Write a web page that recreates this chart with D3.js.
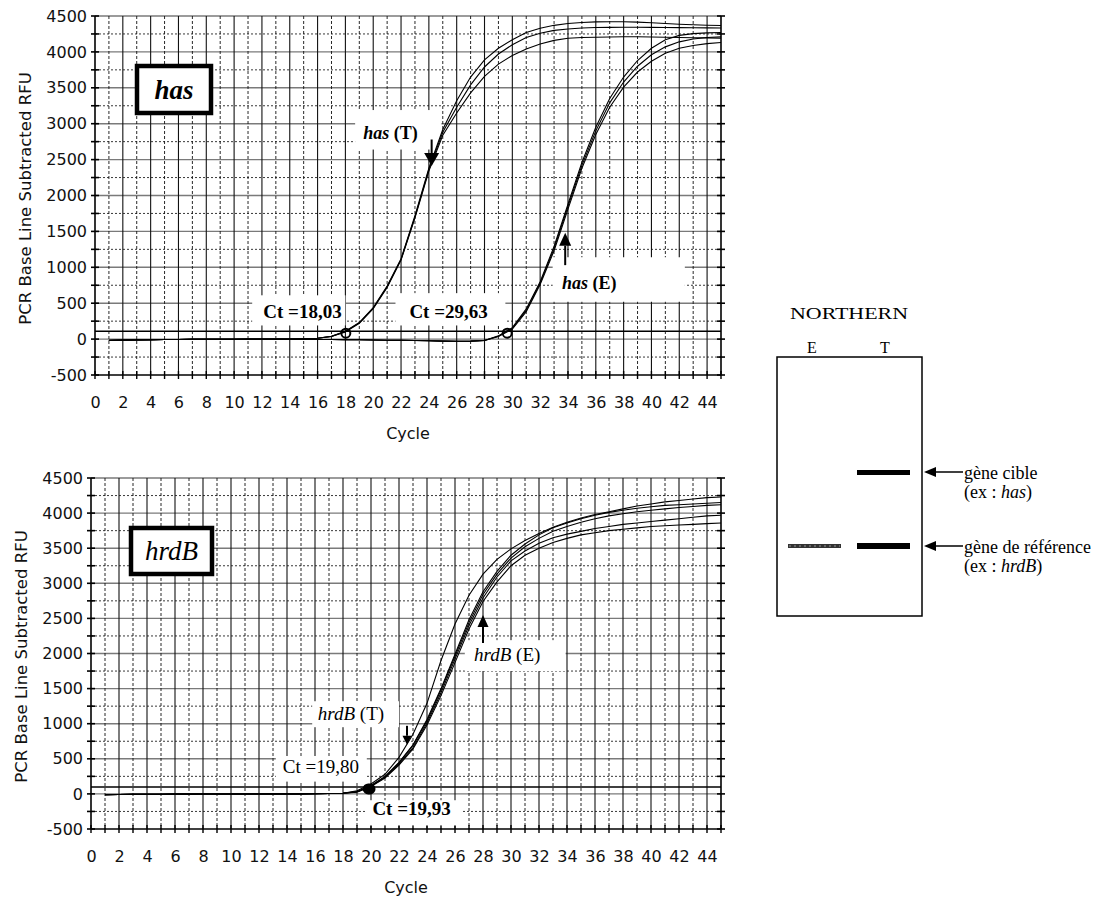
<!DOCTYPE html>
<html>
<head>
<meta charset="utf-8">
<script src="https://cdn.jsdelivr.net/npm/d3@7"></script>
<style>
  body { margin: 0; background: #fff; }
  svg { display: block; }
</style>
</head>
<body>
<svg id="fig" width="1119" height="914"></svg>
<script>
// ---- data -------------------------------------------------------------
const cycles = [1,2,3,4,5,6,7,8,9,10,11,12,13,14,15,16,17,18,19,20,21,22,23,24,25,
                26,27,28,29,30,31,32,33,34,35,36,37,38,39,40,41,42,43,44,45];
const yTicks = [-500,0,500,1000,1500,2000,2500,3000,3500,4000,4500];
const xTicks = [0,2,4,6,8,10,12,14,16,18,20,22,24,26,28,30,32,34,36,38,40,42,44];

// has, sample T (three replicates)
const hasT1 = [-20,-15,-12,-8,-6,-5,-4,-3,-2,-2,-1,0,0,2,5,12,40,110,230,440,740,1120,1720,2380,2920,
               3320,3650,3890,4050,4170,4270,4330,4370,4395,4410,4418,4420,4420,4415,4405,4395,4385,4378,4372,4368];
const hasT2 = [-20,-15,-12,-8,-6,-5,-4,-3,-2,-2,-1,0,0,2,5,12,38,105,225,430,730,1110,1700,2360,2880,
               3230,3540,3790,3970,4100,4200,4260,4300,4320,4333,4340,4342,4343,4343,4342,4340,4338,4336,4334,4332];
const hasT3 = [-20,-15,-12,-8,-6,-5,-4,-3,-2,-2,-1,0,0,2,5,12,36,100,220,425,720,1100,1690,2340,2840,
               3150,3430,3660,3830,3950,4040,4110,4160,4190,4200,4205,4208,4210,4210,4208,4205,4200,4198,4195,4192];
// has, sample E (three replicates)
const hasE1 = [-15,-12,-10,-8,-6,-5,-4,-3,-3,-2,-2,-2,-2,-3,-4,-5,-6,-8,-10,-12,-15,-18,-20,-24,-28,
               -30,-28,-20,45,160,420,800,1290,1880,2460,2950,3350,3650,3880,4050,4170,4230,4255,4265,4270];
const hasE2 = [-15,-12,-10,-8,-6,-5,-4,-3,-3,-2,-2,-2,-2,-3,-4,-5,-6,-8,-10,-12,-15,-18,-20,-24,-28,
               -30,-28,-20,40,150,400,780,1260,1850,2420,2900,3290,3580,3800,3960,4070,4140,4180,4200,4210];
const hasE3 = [-15,-12,-10,-8,-6,-5,-4,-3,-3,-2,-2,-2,-2,-3,-4,-5,-6,-8,-10,-12,-15,-18,-20,-24,-28,
               -30,-28,-20,35,140,380,760,1230,1810,2380,2850,3230,3510,3720,3870,3980,4050,4090,4115,4130];

// hrdB, all runs (E and T)
const hrdB1 = [-10,-8,-6,-5,-4,-3,-3,-2,-2,-1,-1,0,0,0,1,2,5,10,45,140,280,520,850,1290,1900,
               2420,2830,3130,3340,3490,3610,3710,3800,3870,3930,3980,4020,4060,4100,4130,4160,4180,4200,4220,4230];
const hrdB2 = [-10,-8,-6,-5,-4,-3,-3,-2,-2,-1,-1,0,0,0,1,2,5,10,35,120,250,450,700,1060,1500,
               1990,2480,2880,3170,3400,3560,3690,3790,3860,3920,3970,4010,4040,4070,4090,4110,4120,4130,4140,4150];
const hrdB3 = [-10,-8,-6,-5,-4,-3,-3,-2,-2,-1,-1,0,0,0,1,2,5,10,28,110,235,425,660,1010,1440,
               1920,2400,2790,3090,3320,3460,3570,3650,3700,3740,3780,3810,3840,3860,3880,3900,3920,3940,3960,3970];
const hrdB4 = [-10,-8,-6,-5,-4,-3,-3,-2,-2,-1,-1,0,0,0,1,2,5,10,25,105,225,410,640,980,1400,
               1870,2350,2740,3020,3250,3400,3500,3580,3640,3690,3720,3750,3770,3790,3810,3820,3830,3840,3850,3860];
const hrdB5 = [-10,-8,-6,-5,-4,-3,-3,-2,-2,-1,-1,0,0,0,1,2,5,10,30,115,240,440,690,1040,1480,
               1960,2440,2840,3130,3360,3520,3640,3740,3810,3870,3920,3960,3990,4020,4040,4060,4080,4095,4110,4120];

const ctHas = [18.03, 29.63];
const ctHrdB = [19.80, 19.93];
const thresholdHas = 110;
const thresholdHrdB = 100;

// ---- drawing ------------------------------------------------------------
const svg = d3.select("#fig");
const SANS = "'DejaVu Sans', Verdana, sans-serif";
const SERIF = "'Liberation Serif', 'Times New Roman', serif";
const plainNumber = d => String(d);   // "4500", "-500" with an ASCII hyphen

const panels = [
  {
    name: "has", runs: [hasT1, hasT2, hasT3, hasE1, hasE2, hasE3],
    ct: ctHas, thr: thresholdHas,
    left: 95, right: 721, top: 16, bottom: 375,
    tag: { x0: 137, y0: 66, w: 74, h: 47, text: "has", weight: "bold" },
    boxes: [
      [18.7, 24.9, 3190, 2640],
      [32.9, 42.4, 1140, 520],
      [11.3, 18.0, 610, 190],
      [21.6, 29.5, 640, 190]
    ],
    labels: [
      { c: 23.2, v: 2780, anchor: "end", weight: "bold", size: 18, parts: [["has", true], [" (T)", false]] },
      { c: 33.57, v: 700, anchor: "start", weight: "bold", size: 18, parts: [["has", true], [" (E)", false]] },
      { c: 12.1, v: 290, anchor: "start", weight: "bold", size: 19, parts: [["Ct =18,03", false]] },
      { c: 22.6, v: 290, anchor: "start", weight: "bold", size: 19, parts: [["Ct =29,63", false]] }
    ],
    arrows: [
      { c: 24.2, from: 2780, to: 2410, head: 13, width: 15 },
      { c: 33.8, from: 1030, to: 1480, head: 13, width: 12 }
    ]
  },
  {
    name: "hrdB", runs: [hrdB1, hrdB2, hrdB3, hrdB4, hrdB5],
    ct: ctHrdB, thr: thresholdHrdB,
    left: 91, right: 721, top: 478, bottom: 829,
    tag: { x0: 131, y0: 528, w: 81, h: 46, text: "hrdB", weight: "normal" },
    boxes: [
      [26.7, 33.9, 2190, 1750],
      [15.8, 22.0, 1320, 950],
      [13.2, 19.7, 540, 175],
      [19.6, 26.5, -90, -450]
    ],
    labels: [
      { c: 27.36, v: 1890, anchor: "start", weight: "normal", size: 19, parts: [["hrdB", true], [" (E)", false]] },
      { c: 16.2, v: 1050, anchor: "start", weight: "normal", size: 19, parts: [["hrdB", true], [" (T)", false]] },
      { c: 13.7, v: 300, anchor: "start", weight: "normal", size: 19, parts: [["Ct =19,80", false]] },
      { c: 20.1, v: -300, anchor: "start", weight: "bold", size: 19, parts: [["Ct =19,93", false]] }
    ],
    arrows: [
      { c: 28.0, from: 2150, to: 2550, head: 12, width: 11 },
      { c: 22.57, from: 970, to: 700, head: 9, width: 9 }
    ]
  }
];

function arrow(g, xPos, yFrom, yTo, head, width) {
  const dir = yTo > yFrom ? 1 : -1;
  g.append("line")
    .attr("x1", xPos).attr("x2", xPos)
    .attr("y1", yFrom).attr("y2", yTo - dir * head)
    .attr("stroke", "#000").attr("stroke-width", 2);
  g.append("path")
    .attr("d", `M${xPos - width / 2},${yTo - dir * head} L${xPos + width / 2},${yTo - dir * head} L${xPos},${yTo} Z`)
    .attr("fill", "#000");
}

panels.forEach(p => {
  const g = svg.append("g");
  const x = d3.scaleLinear().domain([0, 45]).range([p.left, p.right]);
  const y = d3.scaleLinear().domain([-500, 4500]).range([p.bottom, p.top]);

  // grid: every 250 RFU horizontally, every cycle vertically
  const hVals = d3.range(-250, 4501, 250);
  g.append("g").selectAll("line").data(hVals).join("line")
    .attr("x1", p.left).attr("x2", p.right)
    .attr("y1", d => y(d)).attr("y2", d => y(d))
    .attr("stroke", d => d % 500 === 0 ? "#7a7a7a" : "#222")
    .attr("stroke-width", d => d % 500 === 0 ? 1.4 : 0.9)
    .attr("stroke-dasharray", d => d % 500 === 0 ? null : "2,2");
  const vVals = d3.range(1, 45);
  g.append("g").selectAll("line").data(vVals).join("line")
    .attr("x1", d => x(d)).attr("x2", d => x(d))
    .attr("y1", p.top).attr("y2", p.bottom)
    .attr("stroke", "#111")
    .attr("stroke-width", d => d % 2 === 0 ? 1.1 : 0.9)
    .attr("stroke-dasharray", d => d % 2 === 0 ? null : "3,2");

  // frame and tick marks
  g.append("line").attr("x1", p.left).attr("x2", p.left).attr("y1", p.top).attr("y2", p.bottom)
    .attr("stroke", "#000").attr("stroke-width", 1.6);
  g.append("line").attr("x1", p.right).attr("x2", p.right).attr("y1", p.top).attr("y2", p.bottom)
    .attr("stroke", "#000").attr("stroke-width", 1.6);
  g.append("line").attr("x1", p.left).attr("x2", p.right).attr("y1", p.bottom).attr("y2", p.bottom)
    .attr("stroke", "#000").attr("stroke-width", 1.6);
  const tickV = d3.range(-500, 4501, 250);
  [p.left, p.right].forEach(xx => {
    g.append("g").selectAll("line").data(tickV).join("line")
      .attr("x1", xx - 4).attr("x2", xx + 4)
      .attr("y1", d => y(d)).attr("y2", d => y(d))
      .attr("stroke", "#000").attr("stroke-width", 1.6);
  });
  g.append("g").selectAll("line").data(d3.range(0, 46)).join("line")
    .attr("x1", d => x(d)).attr("x2", d => x(d))
    .attr("y1", p.bottom - 4).attr("y2", p.bottom + 4)
    .attr("stroke", "#000").attr("stroke-width", 1.4);

  // axes labels
  const ya = g.append("g").attr("transform", `translate(${p.left},0)`)
    .call(d3.axisLeft(y).tickValues(yTicks).tickFormat(plainNumber).tickSize(0).tickPadding(8));
  ya.select(".domain").remove();
  ya.selectAll("text").attr("font-family", SANS).attr("font-size", 16).attr("fill", "#111");
  const xa = g.append("g").attr("transform", `translate(0,${p.bottom})`)
    .call(d3.axisBottom(x).tickValues(xTicks).tickFormat(plainNumber).tickSize(0).tickPadding(22));
  xa.select(".domain").remove();
  xa.selectAll("text").attr("font-family", SANS).attr("font-size", 16).attr("fill", "#111");

  g.append("text")
    .attr("transform", `translate(${p.left - 70},${(p.top + p.bottom) / 2 + 3}) rotate(-90)`)
    .attr("text-anchor", "middle").attr("dominant-baseline", "central")
    .attr("font-family", SANS).attr("font-size", 16.5).attr("fill", "#111")
    .text("PCR Base Line Subtracted RFU");
  g.append("text")
    .attr("x", (p.left + p.right) / 2).attr("y", p.bottom + 58)
    .attr("text-anchor", "middle").attr("dominant-baseline", "central")
    .attr("font-family", SANS).attr("font-size", 16).attr("fill", "#111")
    .text("Cycle");

  // white label backgrounds
  g.append("g").selectAll("rect").data(p.boxes).join("rect")
    .attr("x", d => x(d[0])).attr("width", d => x(d[1]) - x(d[0]))
    .attr("y", d => y(d[2])).attr("height", d => y(d[3]) - y(d[2]))
    .attr("fill", "#fff");

  // threshold
  g.append("line").attr("x1", p.left).attr("x2", p.right)
    .attr("y1", y(p.thr)).attr("y2", y(p.thr))
    .attr("stroke", "#000").attr("stroke-width", 1.5);

  // amplification curves
  const line = d3.line().x((d, i) => x(cycles[i])).y(d => y(d));
  g.append("g").selectAll("path").data(p.runs).join("path")
    .attr("d", line)
    .attr("fill", "none").attr("stroke", "#000").attr("stroke-width", 1.1);

  // Ct markers on the threshold
  g.append("g").selectAll("circle").data(p.ct).join("circle")
    .attr("cx", d => x(d)).attr("cy", d => y(p.thr) + 2)
    .attr("r", 4.5)
    .attr("fill", p.name === "hrdB" ? "#000" : "none")
    .attr("stroke", "#000").attr("stroke-width", 2);

  // annotations
  p.labels.forEach(l => {
    const t = g.append("text")
      .attr("x", x(l.c)).attr("y", y(l.v))
      .attr("text-anchor", l.anchor)
      .attr("font-family", SERIF).attr("font-size", l.size)
      .attr("font-weight", l.weight).attr("fill", "#000");
    l.parts.forEach(([s, it]) => {
      t.append("tspan").attr("font-style", it ? "italic" : "normal").text(s);
    });
  });
  p.arrows.forEach(a => arrow(g, x(a.c), y(a.from), y(a.to), a.head, a.width));

  // gene tag
  g.append("rect")
    .attr("x", p.tag.x0).attr("y", p.tag.y0).attr("width", p.tag.w).attr("height", p.tag.h)
    .attr("fill", "#fff").attr("stroke", "#000").attr("stroke-width", 4.5);
  g.append("text")
    .attr("x", p.tag.x0 + p.tag.w / 2).attr("y", p.tag.y0 + p.tag.h / 2 + 9)
    .attr("text-anchor", "middle")
    .attr("font-family", SERIF).attr("font-size", 27)
    .attr("font-style", "italic").attr("font-weight", p.tag.weight)
    .text(p.tag.text);
});

// ---- Northern blot sketch -------------------------------------------------
const nb = svg.append("g");
nb.append("text").attr("x", 849).attr("y", 319).attr("text-anchor", "middle")
  .attr("font-family", SERIF).attr("font-size", 16)
  .attr("textLength", 118).attr("lengthAdjust", "spacingAndGlyphs")
  .text("NORTHERN");
nb.append("text").attr("x", 812).attr("y", 353).attr("text-anchor", "middle")
  .attr("font-family", SERIF).attr("font-size", 16).text("E");
nb.append("text").attr("x", 885).attr("y", 353).attr("text-anchor", "middle")
  .attr("font-family", SERIF).attr("font-size", 16).text("T");
nb.append("rect").attr("x", 777).attr("y", 357).attr("width", 145).attr("height", 259)
  .attr("fill", "#fff").attr("stroke", "#000").attr("stroke-width", 1.5);
nb.append("rect").attr("x", 857).attr("y", 470).attr("width", 53).attr("height", 5).attr("fill", "#000");
nb.append("rect").attr("x", 857).attr("y", 543).attr("width", 53).attr("height", 6).attr("fill", "#000");
nb.append("rect").attr("x", 788).attr("y", 544).attr("width", 53).attr("height", 4).attr("fill", "#333");
nb.append("line").attr("x1", 789).attr("x2", 840).attr("y1", 546).attr("y2", 546)
  .attr("stroke", "#999").attr("stroke-width", 1).attr("stroke-dasharray", "2,3");
[472, 546].forEach(yy => {
  nb.append("line").attr("x1", 934).attr("x2", 963).attr("y1", yy).attr("y2", yy)
    .attr("stroke", "#000").attr("stroke-width", 1.5);
  nb.append("path").attr("d", `M924,${yy} L936,${yy - 5} L936,${yy + 5} Z`).attr("fill", "#000");
});
const noteFont = (sel) => sel.attr("font-family", SERIF).attr("font-size", 18).attr("fill", "#000");
noteFont(nb.append("text").attr("x", 964).attr("y", 479)).text("gène cible");
const n2 = noteFont(nb.append("text").attr("x", 964).attr("y", 498));
n2.append("tspan").text("(ex : ");
n2.append("tspan").attr("font-style", "italic").text("has");
n2.append("tspan").text(")");
noteFont(nb.append("text").attr("x", 964).attr("y", 553)).text("gène de référence");
const n4 = noteFont(nb.append("text").attr("x", 964).attr("y", 572));
n4.append("tspan").text("(ex : ");
n4.append("tspan").attr("font-style", "italic").text("hrdB");
n4.append("tspan").text(")");
</script>
</body>
</html>
